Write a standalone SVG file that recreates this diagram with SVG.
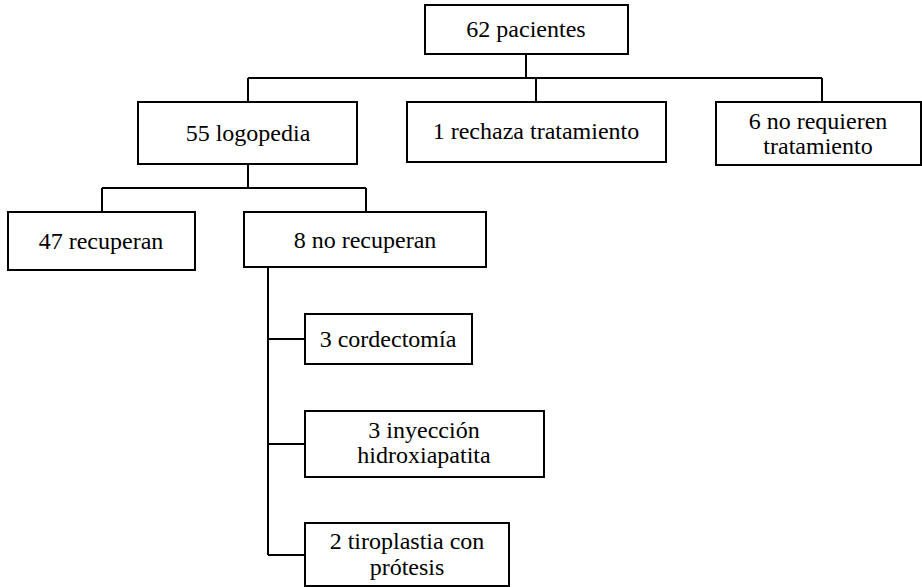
<svg xmlns="http://www.w3.org/2000/svg" width="922" height="587" viewBox="0 0 922 587">
<style>
.box{fill:#fff;stroke:#000;stroke-width:2}
.ln{fill:none;stroke:#000;stroke-width:2}
.t{font-size:24px;fill:#000;text-anchor:middle}
</style>
<rect width="922" height="587" fill="#fff"/>
<g id="connectors">
<path class="ln" d="M526 54V78M248 78H822M248 78V102M536 78V102M822 78V102"/>
<path class="ln" d="M248 164V188M102 188H366M102 188V212M366 188V212"/>
<path class="ln" d="M268 267V555M268 339H305M268 444H305M268 555H305"/>
</g>
<g id="n62"><rect class="box" x="425" y="5" width="203" height="49"/><text class="t" style="font-family:'Liberation Serif'" x="526" y="37">62 pacientes</text></g>
<g id="n55"><rect class="box" x="138" y="102" width="219" height="62"/><text class="t" style="font-family:'Liberation Serif'" x="248" y="141">55 logopedia</text></g>
<g id="n1"><rect class="box" x="407" y="102" width="259" height="60"/><text class="t" style="font-family:'Liberation Serif'" x="536" y="139">1 rechaza tratamiento</text></g>
<g id="n6"><rect class="box" x="716" y="102" width="205" height="63"/><text class="t" style="font-family:'Liberation Serif'" x="818" y="129">6 no requieren</text><text class="t" style="font-family:'Liberation Serif'" x="818" y="154">tratamiento</text></g>
<g id="n47"><rect class="box" x="8" y="212" width="187" height="58"/><text class="t" style="font-family:'Liberation Serif'" x="101" y="249">47 recuperan</text></g>
<g id="n8"><rect class="box" x="244" y="212" width="242" height="55"/><text class="t" style="font-family:'Liberation Serif'" x="365" y="248">8 no recuperan</text></g>
<g id="n3c"><rect class="box" x="305" y="314" width="167" height="50"/><text class="t" style="font-family:'Liberation Serif'" x="388" y="347">3 cordectomía</text></g>
<g id="n3i"><rect class="box" x="305" y="411" width="239" height="66"/><text class="t" style="font-family:'Liberation Serif'" x="424" y="438">3 inyección</text><text class="t" style="font-family:'Liberation Serif'" x="424" y="463">hidroxiapatita</text></g>
<g id="n2t"><rect class="box" x="305" y="523" width="204" height="63"/><text class="t" style="font-family:'Liberation Serif'" x="407" y="549">2 tiroplastia con</text><text class="t" style="font-family:'Liberation Serif'" x="407" y="575">prótesis</text></g>
</svg>
